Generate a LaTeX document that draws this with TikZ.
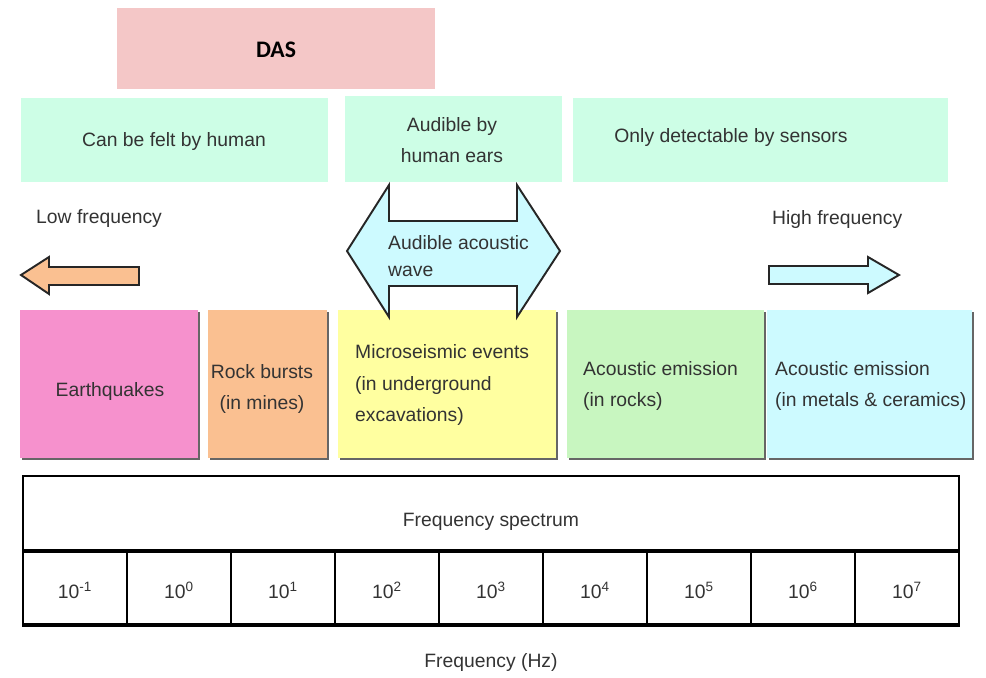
\documentclass[tikz,border=0pt]{standalone}
\usepackage{fontspec}
\setmainfont{Liberation Sans}
\newfontfamily\dasfont{Carlito}
\definecolor{dascol}{RGB}{244,199,199}
\definecolor{mint}{RGB}{205,254,230}
\definecolor{quakecol}{RGB}{246,145,205}
\definecolor{burstcol}{RGB}{250,192,145}
\definecolor{microcol}{RGB}{255,255,160}
\definecolor{rockcol}{RGB}{200,246,192}
\definecolor{metalcol}{RGB}{205,250,255}

\begin{document}
\begin{tikzpicture}[x=0.02cm, y=-0.02cm,
	every node/.style={text=black!80, font=\fontsize{11}{18}\selectfont, align=center},
	lefttxt/.style={align=left, anchor=west},
	arrowshape/.style={draw=black!85, line width=1.1pt, line join=miter}]
	
	\useasboundingbox (0,0) rectangle (986,677);
	
	% top labels
	\fill[dascol] (117,8) rectangle (435,89);
	\node[font=\dasfont\bfseries\fontsize{13.5}{16}\selectfont, text=black] (das) at (276,50) {DAS};
	\fill[mint] (21,98) rectangle (328,182);
	\fill[mint] (345,96) rectangle (562,182);
	\fill[mint] (573,98) rectangle (948,182);
	\node (felt) at (174,141) {Can be felt by human};
	\node (heard) at (452,140) {Audible by\\human ears};
	\node (sensed) at (731,137) {Only detectable by sensors};
	
	% categories
	\foreach \xa/\xb/\col in {20/198/quakecol, 208/327/burstcol, 338/556/microcol, 567/764/rockcol, 767/972/metalcol} {
		\fill[black!60] (\xa+2,312) rectangle (\xb+2,460);
		\fill[\col] (\xa,310) rectangle (\xb,458);
	}
	\node (quake) at (110,391) {Earthquakes};
	\node (burst) at (262,389) {Rock bursts\\(in mines)};
	\node[lefttxt] (micro) at (349,385) {Microseismic events\\(in underground\\excavations)};
	\node[lefttxt] (rock) at (577,386) {Acoustic emission\\(in rocks)};
	\node[lefttxt] (metal) at (769,386) {Acoustic emission\\(in metals \& ceramics)};
	
	% arrows
	\node[lefttxt] (low) at (30,219) {Low frequency};
	\node[lefttxt] (high) at (766,219) {High frequency};
	\filldraw[arrowshape, fill=burstcol] (21,275) -- (49,257) -- (49,267) -- (139,267) -- (139,285) -- (49,285) -- (49,294) -- cycle;
	\filldraw[arrowshape, fill=metalcol] (899,275) -- (868,257) -- (868,266) -- (769,266) -- (769,284) -- (868,284) -- (868,293) -- cycle;
	\filldraw[arrowshape, fill=metalcol] (347,251) -- (389,185) -- (389,221) -- (517,221) -- (517,185) -- (560,251)
		-- (517,317) -- (517,286) -- (389,286) -- (389,317) -- cycle;
	\node[lefttxt, font=\fontsize{11}{15}\selectfont] (wave) at (382,256) {Audible acoustic\\wave};
	
	% spectrum table
	\draw[line width=1pt] (23,551) -- (23,476) -- (959,476) -- (959,551);
	\draw[line width=1.8pt] (23,551) -- (959,551);
	\draw[line width=1pt] (23,551) -- (23,625) (959,551) -- (959,625);
	\draw[line width=2.2pt] (22,625) -- (960,625);
	\foreach \i in {1,...,8} \draw[line width=0.9pt] (23+104*\i,551) -- (23+104*\i,625);
	\foreach \e [count=\i from 0] in {-1,0,...,7} \node (exp\i) at (75+104*\i,590) {10\textsuperscript{\e}};
	\node (spectrum) at (491,522) {Frequency spectrum};
	\node (hz) at (491,662) {Frequency (Hz)};
	
\end{tikzpicture}
\end{document}
